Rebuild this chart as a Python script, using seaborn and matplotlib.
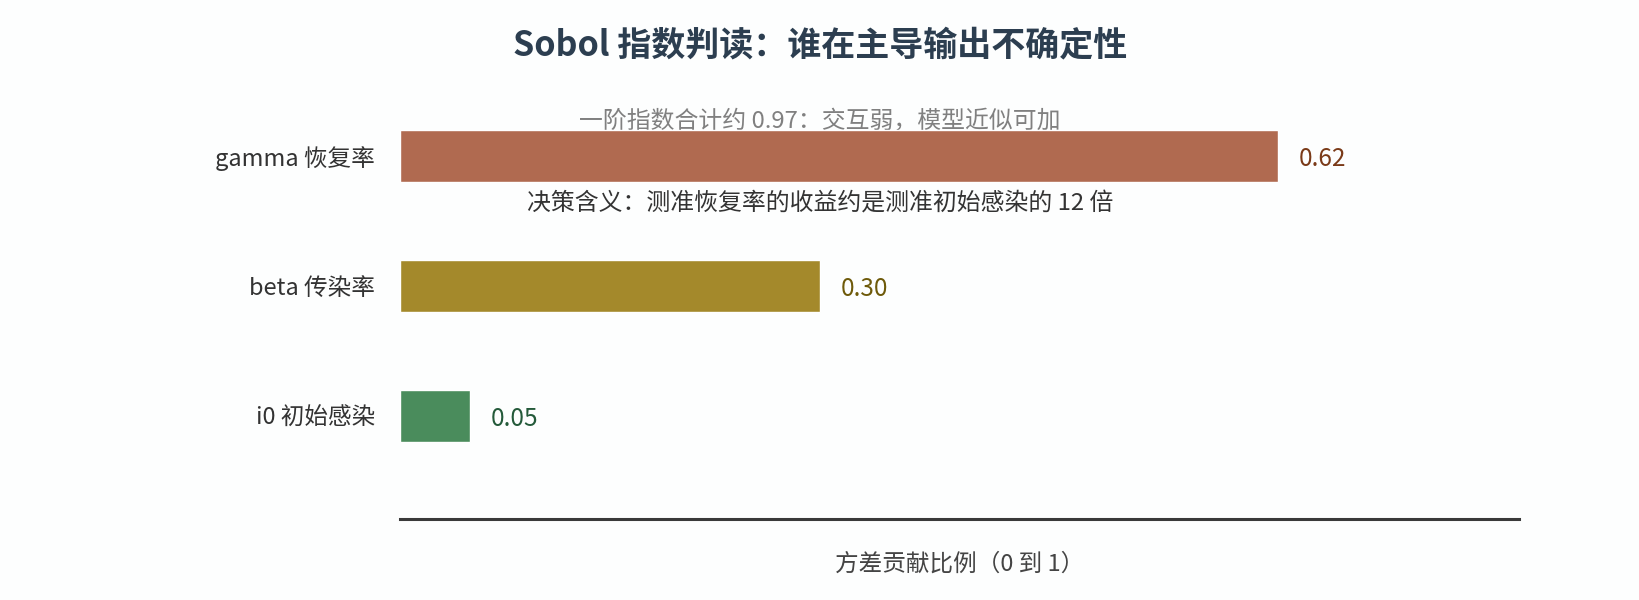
import matplotlib
matplotlib.use("Agg")
import matplotlib.pyplot as plt
import seaborn as sns
import pandas as pd

# Sobol first-order indices
params = ["gamma 恢复率", "beta 传染率", "i0 初始感染"]
values = [0.628, 0.300, 0.050]
value_labels = ["0.62", "0.30", "0.05"]
bar_colors = ["#b06a50", "#a4892b", "#4a8c5c"]
label_colors = ["#7a3a18", "#6e5a0a", "#245a3a"]

title = "Sobol 指数判读：谁在主导输出不确定性"
subtitle = "一阶指数合计约 0.97：交互弱，模型近似可加"
note = "决策含义：测准恢复率的收益约是测准初始感染的 12 倍"
xlabel = "方差贡献比例（0 到 1）"

sns.set_theme(style="white")
plt.rcParams["font.family"] = ["Noto Sans CJK SC", "DejaVu Sans"]

bg = "#fdfefe"
df = pd.DataFrame({"param": params, "value": values})

fig = plt.figure(figsize=(16.4, 6), dpi=100, facecolor=bg)
ax = fig.add_axes([0.244, 0.135, 0.682, 0.713])
ax.set_facecolor(bg)

sns.barplot(data=df, x="value", y="param", hue="param", palette=bar_colors,
            orient="h", width=0.4, legend=False, ax=ax, saturation=1)

for i, (v, lab, c) in enumerate(zip(values, value_labels, label_colors)):
    ax.text(v + 0.015, i + 0.02, lab, va="center", ha="left", fontsize=17.5, color=c)

ax.set_xlim(0, 0.8)
ax.set_ylim(2.79, -0.5)
ax.set_xticks([])
ax.set_ylabel("")
ax.set_xlabel(xlabel, fontsize=17, color="#444444", labelpad=24)
ax.tick_params(axis="y", length=0, labelsize=17, labelcolor="#333333", pad=18)
for s in ["top", "right", "left"]:
    ax.spines[s].set_visible(False)
ax.spines["bottom"].set_color("#3a3a3a")
ax.spines["bottom"].set_linewidth(2.2)

fig.text(0.5, 0.925, title, ha="center", va="center", fontsize=24.5,
         fontweight="bold", color="#2c3e50")
# subtitle sits underneath the top bar
ax.text(0.5, 0.797, subtitle, transform=fig.transFigure, ha="center",
        va="center", fontsize=17.2, color="#808080", zorder=0.5, clip_on=False)
fig.text(0.5, 0.662, note, ha="center", va="center", fontsize=17.2, color="#333333")

fig.savefig("out.png", dpi=100, facecolor=bg)
